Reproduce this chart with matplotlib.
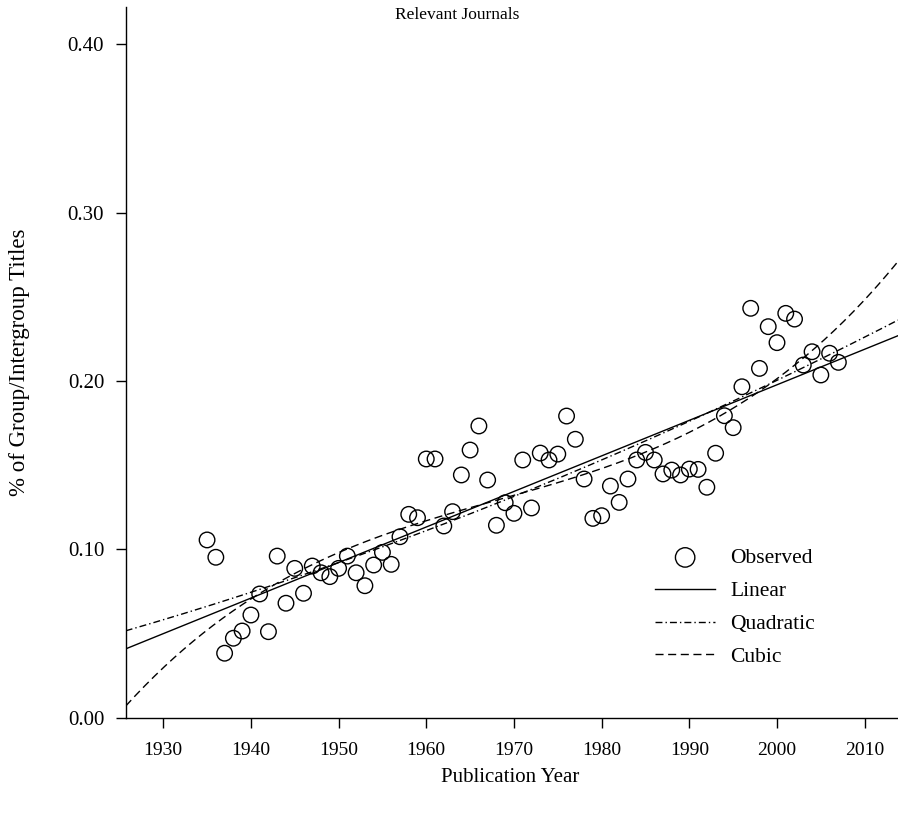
import numpy as np
import matplotlib
matplotlib.use("Agg")
import matplotlib.pyplot as plt

plt.rcParams['font.family'] = ['Liberation Serif', 'DejaVu Serif']

years = list(range(1935, 2008))
share = [0.1056, 0.0953, 0.0383, 0.0472, 0.0515, 0.0610, 0.0735, 0.0511, 0.0960, 0.0680,
         0.0887, 0.0739, 0.0901, 0.0861, 0.0838, 0.0887, 0.0960, 0.0861, 0.0784, 0.0907,
         0.0982, 0.0911, 0.1075, 0.1208, 0.1188, 0.1537, 0.1537, 0.1139, 0.1224, 0.1442,
         0.1590, 0.1733, 0.1412, 0.1143, 0.1277, 0.1214, 0.1531, 0.1246, 0.1572, 0.1531,
         0.1566, 0.1792, 0.1654, 0.1418, 0.1184, 0.1200, 0.1376, 0.1279, 0.1418, 0.1531,
         0.1576, 0.1531, 0.1448, 0.1471, 0.1442, 0.1477, 0.1475, 0.1369, 0.1571, 0.1794,
         0.1723, 0.1966, 0.2432, 0.2075, 0.2323, 0.2228, 0.2402, 0.2368, 0.2095, 0.2174,
         0.2036, 0.2165, 0.2111]

x_ticks = [1930, 1940, 1950, 1960, 1970, 1980, 1990, 2000, 2010]
y_ticks = [0.00, 0.10, 0.20, 0.30, 0.40]
y_ticklabels = ["0.00", "0.10", "0.20", "0.30", "0.40"]
fit_names = ["Linear", "Quadratic", "Cubic"]
fit_degrees = [1, 2, 3]

W, H = 898, 817
fig = plt.figure(figsize=(W / 100, H / 100), dpi=100)
left_px, right_px, top_px, bot_px = 125.7, 898, 7, 717.7
ax = fig.add_axes([left_px / W, 1 - bot_px / H, (right_px - left_px) / W, (bot_px - top_px) / H])

xmin, xmax = 1925.72, 2013.8
ax.set_xlim(xmin, xmax)
ax.set_ylim(0, 0.4222)

yr = np.array(years, dtype=float)
sh = np.array(share)
xs = np.linspace(xmin, xmax, 400)
styles = {"Linear": dict(ls='-'),
          "Quadratic": dict(ls=(0, (5, 2.2, 1, 2.2))),
          "Cubic": dict(ls=(0, (5.8, 3.3)))}
handles = []
sc = ax.scatter(yr, sh, s=125, facecolors='none', edgecolors='black', linewidths=1.0, zorder=3,
                label="Observed", clip_on=False)
handles.append(sc)
xc = yr.mean()
for name, deg in zip(fit_names, fit_degrees):
    coef = np.polyfit(yr - xc, sh, deg)
    ln, = ax.plot(xs, np.polyval(coef, xs - xc), color='black', lw=1.0, label=name, **styles[name])
    handles.append(ln)

ax.spines['top'].set_visible(False)
ax.spines['right'].set_visible(False)
for s in ['left', 'bottom']:
    ax.spines[s].set_linewidth(1.0)
ax.set_xticks(x_ticks)
ax.set_xticklabels([str(v) for v in x_ticks])
ax.set_yticks(y_ticks)
ax.set_yticklabels(y_ticklabels)
ax.tick_params(direction='out', length=7.5, width=1.0, labelsize=14)
ax.tick_params(axis='x', pad=10)
ax.tick_params(axis='y', pad=8, labelsize=15)

fig.text(510 / W, 1 - 777 / H, "Publication Year", ha='center', va='center', fontsize=15)
fig.text(20 / W, 1 - 362 / H, "% of Group/Intergroup Titles", ha='center', va='center',
         rotation=90, fontsize=16.5)
fig.text(457 / W, 1 - 15 / H, "Relevant Journals", ha='center', va='center', fontsize=12.5)

leg = ax.legend(handles=handles, loc='upper left', bbox_to_anchor=(655 / W, 1 - 548 / H),
                bbox_transform=fig.transFigure, frameon=False, fontsize=15.5, borderpad=0,
                borderaxespad=0, handlelength=2.8, handletextpad=0.7, labelspacing=0.6,
                markerscale=1.25)

fig.savefig("out.png", dpi=100)
